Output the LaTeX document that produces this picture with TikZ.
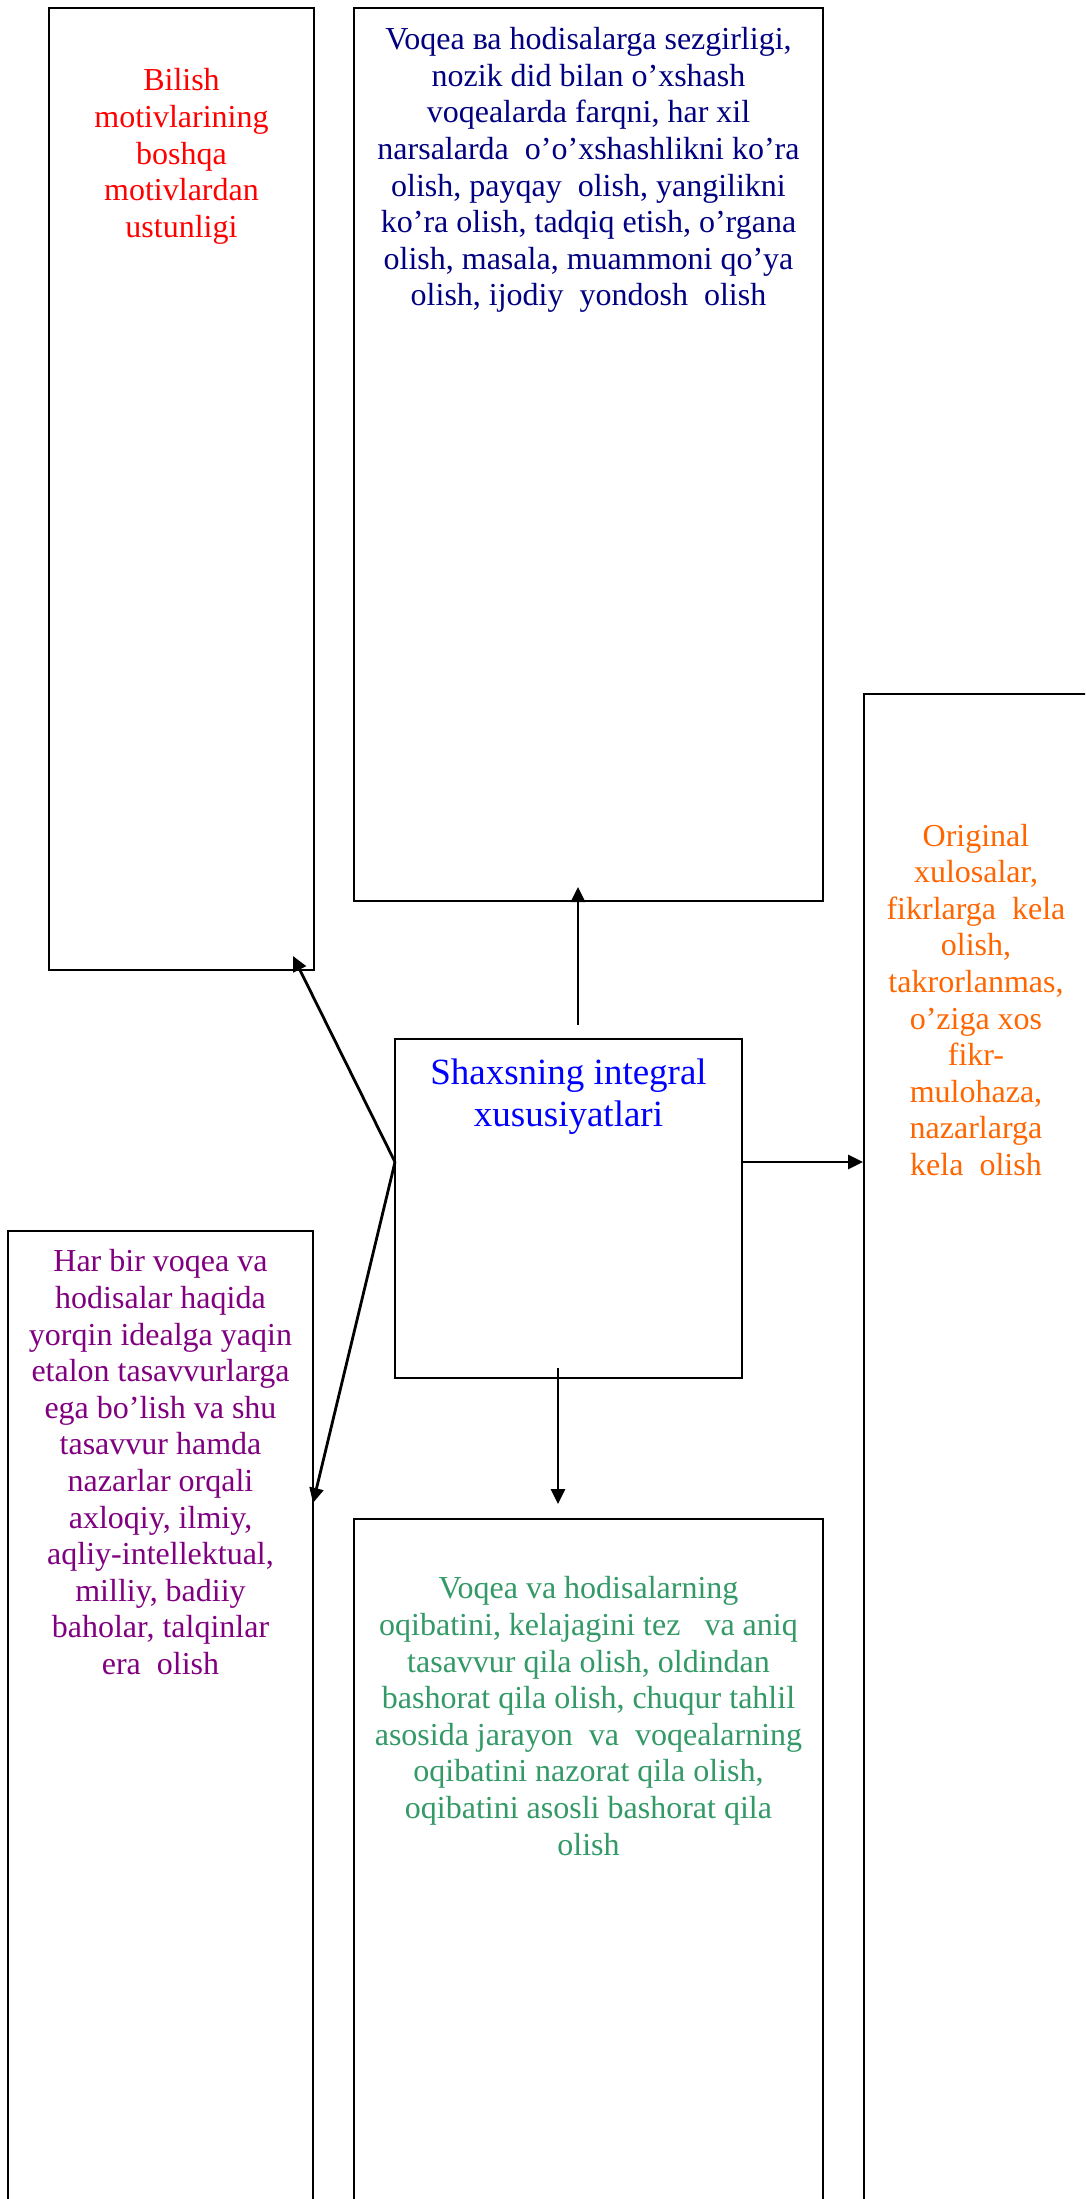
\documentclass[tikz,border=0pt]{standalone}
\usepackage{fontspec}
\setmainfont{Liberation Serif}
\usetikzlibrary{arrows.meta}
\definecolor{cred}{HTML}{FF0000}
\definecolor{cnavy}{HTML}{000080}
\definecolor{corange}{HTML}{FF6600}
\definecolor{cpurple}{HTML}{800080}
\definecolor{cgreen}{HTML}{339966}
\definecolor{cblue}{HTML}{0000FF}
\begin{document}
\begin{tikzpicture}[x=1pt,y=-1pt,
  box/.style={draw=black,line width=2pt,inner sep=0pt,outer sep=0pt,anchor=north west},
  txt/.style={inner sep=0pt,anchor=base,align=center,font=\fontsize{32}{36.6}\selectfont},
  ctxt/.style={inner sep=0pt,anchor=base,align=center,font=\fontsize{37}{42}\selectfont},
  conn/.style={line width=2.8pt,-{Triangle[length=15pt,width=14pt]}}]
\path[use as bounding box] (0,0) rectangle (1085,2199);
\clip (0,0) rectangle (1085,2199);
\fill[white] (0,0) rectangle (1085,2199);
% boxes
\node[box,minimum width=265pt,minimum height=962pt] (b1) at (49,8) {};
\node[box,minimum width=469pt,minimum height=893pt] (b2) at (354,8) {};
\node[box,minimum width=225pt,minimum height=1560pt] (b3) at (864,694) {};
\node[box,minimum width=305pt,minimum height=1000pt] (b4) at (8,1231) {};
\node[box,minimum width=469pt,minimum height=720pt] (b5) at (354,1519) {};
\node[box,minimum width=347pt,minimum height=339pt] (c) at (395,1039) {};
% texts (anchor = baseline of the last line)
\node[txt,text=cred] (t1) at (181.5,237.4) {Bilish\\motivlarining\\boshqa\\motivlardan\\ustunligi};
\node[txt,text=cnavy] (t2) at (588.5,306) {Voqea ва hodisalarga sezgirligi,\\nozik did bilan o’xshash\\voqealarda farqni, har xil\\narsalarda\ \ o’o’xshashlikni ko’ra\\olish, payqay\ \ olish, yangilikni\\ko’ra olish, tadqiq etish, o’rgana\\olish, masala, muammoni qo’ya\\olish, ijodiy\ \ yondosh\ \ olish};
\node[txt,text=corange] (t3) at (976,1175.5) {Original\\xulosalar,\\fikrlarga\ \ kela\\olish,\\takrorlanmas,\\o’ziga xos\\fikr-\\mulohaza,\\nazarlarga\\kela\ \ olish};
\node[txt,text=cpurple] (t4) at (160.5,1674.5) {Har bir voqea va\\hodisalar haqida\\yorqin idealga yaqin\\etalon tasavvurlarga\\ega bo’lish va shu\\tasavvur hamda\\nazarlar orqali\\axloqiy, ilmiy,\\aqliy-intellektual,\\milliy, badiiy\\baholar, talqinlar\\era\ \ olish};
\node[txt,text=cgreen] (t5) at (588.5,1855) {Voqea va hodisalarning\\oqibatini, kelajagini tez\ \ \ va aniq\\tasavvur qila olish, oldindan\\bashorat qila olish, chuqur tahlil\\asosida jarayon\ \ va\ \ voqealarning\\oqibatini nazorat qila olish,\\oqibatini asosli bashorat qila\\olish};
\node[ctxt,text=cblue] (tc) at (568.5,1126.5) {Shaxsning integral\\xususiyatlari};
% connector end points
\coordinate (upS) at (578,1025);
\coordinate (upE) at (578,887);
\coordinate (jL) at (395,1162);
\coordinate (luE) at (293,956);
\coordinate (ldE) at (313,1503);
\coordinate (rS) at (742,1162);
\coordinate (rE) at (863,1162);
\coordinate (dS) at (558,1368);
\coordinate (dE) at (558,1504);
% connectors
\draw[conn] (upS) -- (upE);
\draw[conn] (jL) -- (luE);
\draw[conn] (jL) -- (ldE);
\draw[conn] (rS) -- (rE);
\draw[conn] (dS) -- (dE);
\end{tikzpicture}
\end{document}
